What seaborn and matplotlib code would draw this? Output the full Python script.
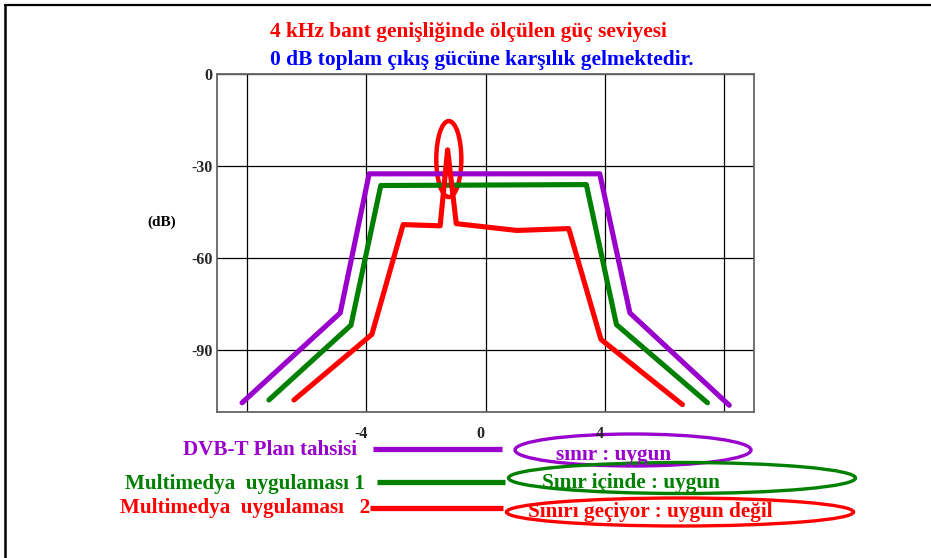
import matplotlib
matplotlib.use("Agg")
import matplotlib.pyplot as plt
import matplotlib.transforms as mtransforms
from matplotlib.patches import Ellipse
import seaborn as sns

# frequency offset (MHz) and level (dB)
plan_f = [-8.16, -4.87, -3.90, 3.83, 4.84, 8.17]
plan_db = [-107.0, -77.8, -32.6, -32.6, -77.8, -107.8]

mm1_f = [-7.26, -4.51, -3.51, 3.38, 4.39, 7.44]
mm1_db = [-106.1, -81.8, -36.4, -36.1, -81.6, -107.0]

mm2_f = [-6.42, -3.81, -2.76, -1.52, -1.27, -0.98, 1.05, 2.79, 3.87, 6.60]
mm2_db = [-106.1, -84.8, -49.1, -49.5, -24.8, -48.8, -51.0, -50.4, -86.4, -107.6]

x_ticks = [-8, -4, 0, 4, 8]
x_tick_labels = ["", "-4", "0", "4", ""]
y_ticks = [0, -30, -60, -90]

series_names = ["DVB-T Plan tahsisi", "Multimedya  uygulaması 1", "Multimedya  uygulaması   2"]
series_notes = ["sınır : uygun", "Sınır içinde : uygun", "Sınırı geçiyor : uygun değil"]
series_colors = ["#9900CC", "#008000", "#FF0000"]

title_1 = "4 kHz bant genişliğinde ölçülen güç seviyesi"
title_2 = "0 dB toplam çıkış gücüne karşılık gelmektedir."

sns.set_style("white")
plt.rcParams["font.family"] = ["Liberation Serif", "DejaVu Serif"]
plt.rcParams["font.weight"] = "bold"
plt.rcParams["axes.unicode_minus"] = False

fig = plt.figure(figsize=(9.31, 5.58), dpi=100)
ax = fig.add_axes([217 / 931, 1 - 412 / 558, 537 / 931, 338.5 / 558])

sns.lineplot(x=plan_f, y=plan_db, sort=False, color=series_colors[0], lw=3.7, ax=ax)
sns.lineplot(x=mm1_f, y=mm1_db, sort=False, color=series_colors[1], lw=3.7, ax=ax)
sns.lineplot(x=mm2_f, y=mm2_db, sort=False, color=series_colors[2], lw=3.7, ax=ax)

# red ring round the spike
ax.add_patch(Ellipse((-1.23, -27.8), 0.84, 24.7, fill=False, ec="#FF0000", lw=3.2))

ax.set_xlim(-9, 9)
ax.set_ylim(-110, 0)
ax.set_xticks(x_ticks)
ax.set_xticklabels(x_tick_labels)
ax.set_yticks(y_ticks)
ax.grid(True, color="black", lw=0.9)
ax.tick_params(length=0, labelsize=11.5)
ax.tick_params(axis="x", pad=10)
ax.tick_params(axis="y", pad=3)
for lab in ax.get_xticklabels() + ax.get_yticklabels():
    lab.set_fontweight("bold")
shift = mtransforms.ScaledTranslation(-5 / 100, 0, fig.dpi_scale_trans)
for lab in ax.get_xticklabels():
    lab.set_transform(lab.get_transform() + shift)
for sp in ax.spines.values():
    sp.set_color("#666666")
    sp.set_linewidth(1.3)

# overlay in pixel units for titles, legend and frame
ov = fig.add_axes([0, 0, 1, 1], zorder=-1)
ov.set_xlim(0, 931)
ov.set_ylim(558, 0)
ov.axis("off")

ov.plot([5, 931], [5, 5], color="black", lw=1.6)
ov.plot([5, 5], [5, 558], color="black", lw=1.8)

ov.text(270, 32, title_1, color="#FF0000", fontsize=15.4, fontweight="bold", ha="left", va="center")
ov.text(270, 60, title_2, color="#0000FF", fontsize=15.4, fontweight="bold", ha="left", va="center")
ov.text(162, 222, "(dB)", color="black", fontsize=11, fontweight="bold", ha="center", va="center")

leg_y = [449, 482, 508]
leg_text_y = [450, 484, 508]
leg_text_x = [357, 365, 370]
leg_line = [(373, 502), (377, 505), (370, 503)]
ring_xy = [(633, 450), (682, 478), (680, 512)]
ring_wh = [(236, 32), (347, 31), (347, 28)]
note_xy = [(614, 455), (631, 483), (650, 512)]

for i in range(3):
    c = series_colors[i]
    ov.text(leg_text_x[i], leg_text_y[i], series_names[i], color=c, fontsize=15.2,
            fontweight="bold", ha="right", va="center")
    ov.plot(leg_line[i], [leg_y[i], leg_y[i]], color=c, lw=3.8, solid_capstyle="butt")
    ov.add_patch(Ellipse(ring_xy[i], ring_wh[i][0], ring_wh[i][1], fill=False, ec=c, lw=2.4))
    ov.text(note_xy[i][0], note_xy[i][1], series_notes[i], color=c, fontsize=15.3,
            fontweight="bold", ha="center", va="center")

fig.savefig("out.png", dpi=100)
